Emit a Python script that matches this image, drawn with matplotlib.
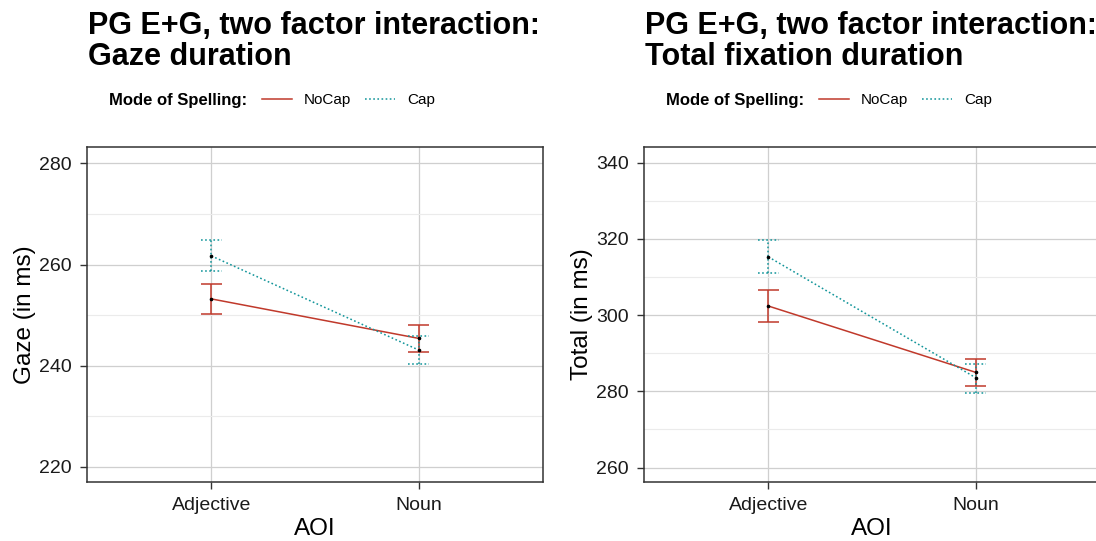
import matplotlib.pyplot as plt
from matplotlib.lines import Line2D
from matplotlib.ticker import MultipleLocator

plt.rcParams['font.family'] = ['Liberation Sans', 'DejaVu Sans']

# data
aoi = ["Adjective", "Noun"]
groups = ["NoCap", "Cap"]

gaze_mean = {"NoCap": [253.2, 245.4], "Cap": [261.7, 243.1]}
gaze_low = {"NoCap": [250.2, 242.7], "Cap": [258.7, 240.4]}
gaze_high = {"NoCap": [256.1, 248.1], "Cap": [264.8, 245.9]}

total_mean = {"NoCap": [302.4, 285.0], "Cap": [315.3, 283.6]}
total_low = {"NoCap": [298.1, 281.3], "Cap": [311.1, 279.7]}
total_high = {"NoCap": [306.5, 288.6], "Cap": [319.7, 287.2]}

colors = {"NoCap": "#C0392B", "Cap": "#12959A"}
styles = {"NoCap": "-", "Cap": (0, (1.1, 1.6))}
cap_w = 0.05

fig = plt.figure(figsize=(10.96, 5.41), dpi=100)


def panel(left, title, ylabel, mean, low, high, ylim):
    ax = fig.add_axes([left, 0.109, 0.416, 0.619])
    x = list(range(len(aoi)))
    for g in groups:
        c, ls = colors[g], styles[g]
        ax.plot(x, mean[g], color=c, ls=ls, lw=1.1, zorder=3)
        # error bars drawn by hand so the caps can be dotted too
        ax.vlines(x, low[g], high[g], color=c, linestyles=[ls], lw=1.1, zorder=3)
        for y in (low[g], high[g]):
            ax.hlines(y, [i - cap_w for i in x], [i + cap_w for i in x],
                      color=c, linestyles=[ls], lw=1.1, zorder=3)
        ax.plot(x, mean[g], 'o', color='black', ms=1.6, zorder=4)
    ax.set_xlim(-0.6, 1.6)
    ax.set_ylim(*ylim)
    ax.set_xticks(x)
    ax.set_xticklabels(aoi)
    ax.yaxis.set_major_locator(MultipleLocator(20))
    ax.yaxis.set_minor_locator(MultipleLocator(10))
    ax.grid(which='major', color='#CFCFCF', lw=0.9)
    ax.grid(which='minor', axis='y', color='#EBEBEB', lw=0.8)
    ax.tick_params(which='minor', length=0)
    ax.tick_params(which='major', labelsize=14, length=5, width=1, pad=6,
                   color='#333333', labelcolor='#1a1a1a')
    for s in ax.spines.values():
        s.set_color('#333333')
        s.set_linewidth(1.1)
    ax.set_axisbelow(True)
    ax.set_xlabel("AOI", fontsize=17.5, labelpad=3)
    ax.set_ylabel(ylabel, fontsize=17.5, labelpad=2)

    fx = left + 0.0005
    fig.text(fx, 0.98, title, fontsize=22, fontweight='bold',
             ha='left', va='top', linespacing=1.05)
    fig.text(fx + 0.0195, 0.815, "Mode of Spelling:", fontsize=12,
             fontweight='bold', ha='left', va='center')
    handles = [Line2D([], [], color=colors[g], ls=styles[g], lw=1.1) for g in groups]
    fig.legend(handles, groups, loc='center left',
               bbox_to_anchor=(fx + 0.159, 0.815), ncol=2, frameon=False,
               fontsize=11, handlelength=1.95, handletextpad=0.8,
               columnspacing=0.9, borderaxespad=0, borderpad=0)
    return ax


panel(0.0794, "PG E+G, two factor interaction:\nGaze duration", "Gaze (in ms)",
      gaze_mean, gaze_low, gaze_high, (217, 283.2))
panel(0.5876, "PG E+G, two factor interaction:\nTotal fixation duration", "Total (in ms)",
      total_mean, total_low, total_high, (256.2, 344.1))

fig.savefig("out.png", dpi=100)
